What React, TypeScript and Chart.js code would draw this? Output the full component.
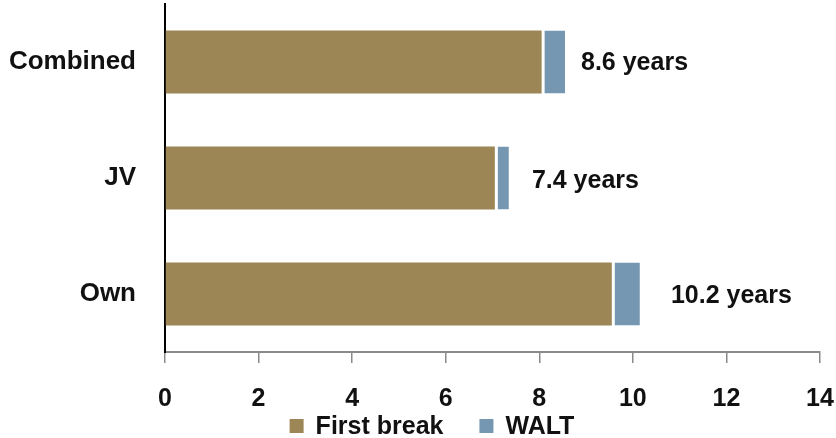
import React, { useEffect, useRef } from 'react';
import { Chart, registerables } from 'chart.js';

Chart.register(...registerables);

const categories = ['Combined', 'JV', 'Own'];
const firstBreak = [8.05, 7.05, 9.55];
const walt = [0.5, 0.3, 0.6];
const totalLabels = ['8.6 years', '7.4 years', '10.2 years'];
const seriesNames = ['First break', 'WALT'];
const xMin = 0;
const xMax = 14;
const xStep = 2;

const FONT = '"Liberation Sans", Arial, Helvetica, sans-serif';
const COLORS = ['#9C8656', '#7697B1'];
const LABEL_OFFSETS = [16, 23, 31];
const LABEL_DY = [1, 3, 2];

export default function App() {
  const ref = useRef<HTMLCanvasElement>(null);

  useEffect(() => {
    document.body.style.margin = '0';
    if (!ref.current) return;

    const valueLabels = {
      id: 'valueLabels',
      afterDatasetsDraw(chart: any) {
        const ctx = chart.ctx;
        const meta = chart.getDatasetMeta(1);
        ctx.save();
        ctx.font = `bold 25px ${FONT}`;
        ctx.fillStyle = '#111';
        ctx.textBaseline = 'middle';
        ctx.textAlign = 'left';
        meta.data.forEach((el: any, i: number) => {
          ctx.fillText(totalLabels[i], el.x + LABEL_OFFSETS[i], el.y + LABEL_DY[i]);
        });
        ctx.restore();
      },
    };

    const customLegend = {
      id: 'customLegend',
      afterDraw(chart: any) {
        const ctx = chart.ctx;
        ctx.save();
        ctx.font = `bold 25px ${FONT}`;
        const box = 14;
        const gapText = 12;
        const gapItem = 36;
        const widths = chart.data.datasets.map((d: any) => ctx.measureText(d.label).width);
        const total = widths.reduce((a: number, w: number) => a + box + gapText + w, 0) + gapItem * (widths.length - 1);
        let x = 432 - total / 2;
        const cy = 426;
        chart.data.datasets.forEach((d: any, i: number) => {
          ctx.fillStyle = d.backgroundColor;
          ctx.fillRect(x, cy - box / 2, box, box);
          x += box + gapText;
          ctx.fillStyle = '#111';
          ctx.textBaseline = 'middle';
          ctx.textAlign = 'left';
          ctx.fillText(d.label, x, cy + 1);
          x += widths[i] + gapItem;
        });
        ctx.restore();
      },
    };

    const chart = new Chart(ref.current, {
      type: 'bar',
      data: {
        labels: categories,
        datasets: [
          {
            label: seriesNames[0],
            data: firstBreak,
            backgroundColor: COLORS[0],
            borderWidth: 0,
            categoryPercentage: 1,
            barPercentage: 0.545,
          },
          {
            label: seriesNames[1],
            data: walt,
            backgroundColor: COLORS[1],
            borderColor: '#ffffff',
            borderWidth: { left: 3, right: 0, top: 0, bottom: 0 },
            borderSkipped: false,
            categoryPercentage: 1,
            barPercentage: 0.545,
          },
        ],
      },
      options: {
        indexAxis: 'y',
        animation: false,
        responsive: false,
        maintainAspectRatio: false,
        layout: { padding: { top: 4, right: 16, left: 0, bottom: 0 } },
        plugins: {
          legend: { display: false },
          tooltip: { enabled: false },
        },
        scales: {
          x: {
            stacked: true,
            min: xMin,
            max: xMax,
            ticks: {
              stepSize: xStep,
              color: '#111',
              font: { family: FONT, size: 25, weight: 'bold' },
              padding: 21,
              maxRotation: 0,
            },
            grid: {
              display: true,
              drawOnChartArea: false,
              drawTicks: true,
              tickLength: 11,
              color: '#8a8a8a',
              lineWidth: 1.5,
            },
            border: { display: true, color: '#8a8a8a', width: 2 },
            afterFit(scale: any) {
              scale.height = 86;
              scale.paddingLeft = 0;
              scale.paddingRight = 0;
            },
          },
          y: {
            stacked: true,
            ticks: {
              color: '#111',
              font: { family: FONT, size: 26, weight: 'bold' },
              padding: 21,
            },
            grid: { display: false },
            border: { display: true, color: '#000', width: 2 },
            afterFit(scale: any) {
              scale.width = 165;
              scale.paddingTop = 0;
              scale.paddingBottom = 0;
            },
          },
        },
      },
      plugins: [valueLabels, customLegend],
    });

    return () => chart.destroy();
  }, []);

  return (
    <div style={{ width: 836, height: 438, position: 'relative' }}>
      <canvas ref={ref} width={836} height={438} style={{ width: 836, height: 438, display: 'block' }} />
    </div>
  );
}
